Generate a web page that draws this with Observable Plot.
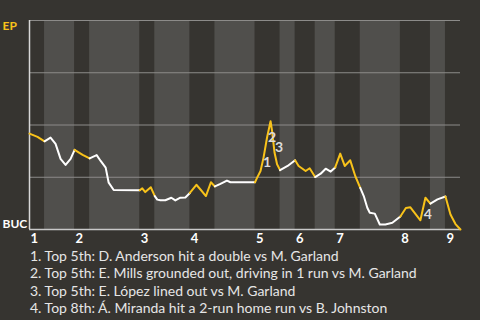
<!DOCTYPE html>
<html>
<head>
<meta charset="utf-8">
<script src="https://cdn.jsdelivr.net/npm/d3@7"></script>
<script src="https://cdn.jsdelivr.net/npm/@observablehq/plot@0.6"></script>
<style>
  html, body { margin: 0; padding: 0; background: #363430; }
  body { width: 480px; height: 320px; overflow: hidden; font-family: Lato, "Open Sans", sans-serif; }
  #chart svg { display: block; }
  #caption { margin: -3px 0 0 30px; color: #e6e6e6; font-size: 14px; line-height: 17.4px; }
</style>
</head>
<body>
<div id="chart"></div>
<div id="caption"></div>
<script>
// Inning labels and half-inning boundaries (in play-number units)
const innings = ["1", "2", "3", "4", "5", "6", "7", "8", "9"];
const halfBounds = [0, 3, 9, 12, 22, 25, 32, 37, 45, 50, 53, 57, 61, 66, 74, 80, 83, 86];

// Win probability for EP (1 = EP wins, 0 = BUC wins), by play number
const play = [0, 1.6, 3, 4.2, 5.2, 6.2, 7.2, 8.2, 9, 10.6, 12, 13.4, 14.2, 15.2, 15.8, 16.8, 22, 22.5, 23.1, 24.2,
  25, 25.5, 26.1, 27.1, 28.3, 29.1, 30.1, 31.1, 32, 33.3, 34.2, 35.2, 36.2, 37, 38.1, 39.4, 40.1, 45, 45.4, 46.1,
  46.7, 47.4, 48.1, 48.4, 48.9, 49.4, 50, 51.5, 53, 53.7, 55.1, 55.9, 57, 58.1, 59.1, 60.1, 61, 62, 62.9, 64,
  65, 66, 66.7, 67.4, 67.9, 68.9, 69.9, 71, 72.4, 74, 75.1, 76, 78, 79, 80, 81.4, 83, 84, 85, 86];
const epWinProb = [0.459, 0.443, 0.422, 0.440, 0.410, 0.338, 0.309, 0.338, 0.381, 0.357, 0.340, 0.356, 0.328, 0.296, 0.224, 0.189, 0.188, 0.197, 0.179, 0.202,
  0.160, 0.143, 0.140, 0.140, 0.152, 0.139, 0.152, 0.153, 0.175, 0.214, 0.189, 0.160, 0.226, 0.206, 0.218, 0.234, 0.226, 0.226, 0.247, 0.280,
  0.344, 0.440, 0.518, 0.472, 0.367, 0.312, 0.284, 0.304, 0.331, 0.304, 0.280, 0.293, 0.251, 0.267, 0.291, 0.277, 0.297, 0.363, 0.304, 0.331,
  0.256, 0.199, 0.160, 0.104, 0.080, 0.076, 0.024, 0.024, 0.032, 0.062, 0.103, 0.106, 0.044, 0.152, 0.124, 0.144, 0.158, 0.072, 0.026, 0.0];

// Numbered annotations
const noteLabels = ["1", "2", "3", "4"];
const notePlay = [47.4, 48.4, 49.8, 79.5];
const noteProb = [0.322, 0.440, 0.394, 0.070];

const captions = [
  "1. Top 5th: D. Anderson hit a double vs M. Garland",
  "2. Top 5th: E. Mills grounded out, driving in 1 run vs M. Garland",
  "3. Top 5th: E. López lined out vs M. Garland",
  "4. Top 8th: Á. Miranda hit a 2-run home run vs B. Johnston"
];

const yellow = "#f8c21a";
const white = "#ffffff";

// Build half-inning tables
const halves = halfBounds.slice(0, -1).map((b, i) => ({
  half: i, x1: b, x2: halfBounds[i + 1], top: i % 2 === 0
}));
const lineRows = [];
halves.forEach(h => {
  play.forEach((p, j) => {
    if (p >= h.x1 && p <= h.x2) lineRows.push({half: h.half, play: p, wp: epWinProb[j], color: h.top ? yellow : white});
  });
});
const inningRows = innings.map((t, i) => ({label: t, start: halfBounds[i * 2]}));
const notes = noteLabels.map((t, i) => ({t, x: notePlay[i], y: noteProb[i]}));

const chart = Plot.plot({
  width: 480,
  height: 250,
  marginLeft: 29,
  marginRight: 20,
  marginTop: 20,
  marginBottom: 21,
  style: {background: "transparent", fontFamily: "Lato, 'Open Sans', sans-serif"},
  x: {domain: [0, 86], axis: null},
  y: {domain: [0, 1], axis: null},
  color: {type: "identity"},
  marks: [
    Plot.rect(halves.filter(h => !h.top), {x1: "x1", x2: "x2", y1: 0, y2: 1, fill: "#504f4c"}),
    Plot.ruleY([0.25, 0.5, 0.75, 1], {stroke: "#8c8b89", strokeWidth: 1}),
    Plot.ruleY([0], {stroke: "#c8c8c8", strokeWidth: 1.5}),
    Plot.ruleX([0], {stroke: "#d8d8d8", strokeWidth: 1.5}),
    Plot.line(lineRows, {x: "play", y: "wp", z: "half", stroke: "color", strokeWidth: 2, curve: "linear"}),
    Plot.text(notes, {x: "x", y: "y", text: "t", fill: "#dcdcdc", fontSize: 14, fontWeight: "bold"}),
    Plot.text(inningRows, {x: "start", y: 0, text: "label", textAnchor: "start", dx: 1, dy: 9, fill: "#ffffff", fontSize: 13, fontWeight: "bold"}),
    Plot.text(["EP"], {x: 0, y: 1, text: d => d, textAnchor: "start", lineAnchor: "top", dx: -27, dy: 1, fill: yellow, fontSize: 12, fontWeight: "bold"}),
    Plot.text(["BUC"], {x: 0, y: 0, text: d => d, textAnchor: "start", lineAnchor: "bottom", dx: -27, dy: -2, fill: "#ffffff", fontSize: 12, fontWeight: "bold"})
  ]
});
document.getElementById("chart").appendChild(chart);
document.getElementById("caption").innerHTML = captions.map(c => `<div>${c}</div>`).join("");
</script>
</body>
</html>
